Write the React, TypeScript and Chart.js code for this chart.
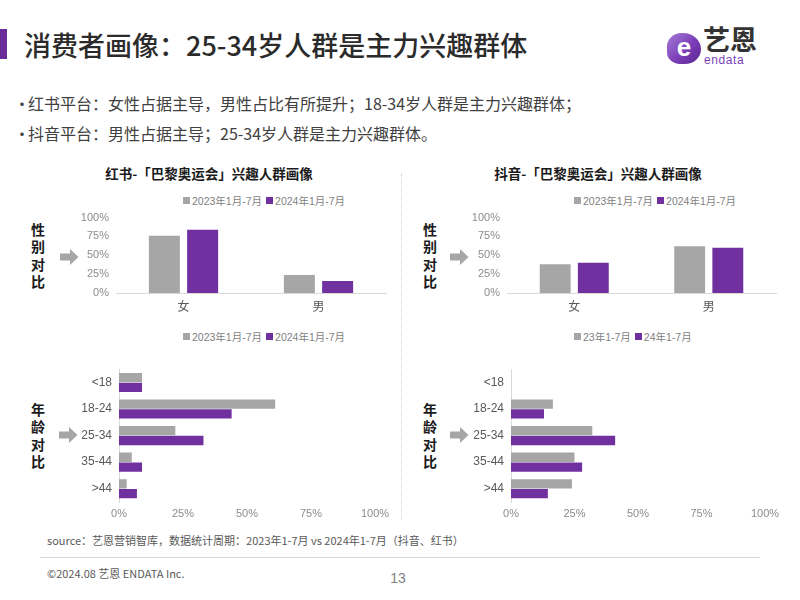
import React, { useEffect, useRef } from "react";
import { Chart, registerables } from "chart.js";

Chart.register(...registerables);

// ---------- data ----------
const genderLabels = ["女", "男"];
const xhsGender2023 = [76, 24];
const xhsGender2024 = [84, 16];
const dyGender2023 = [38, 62];
const dyGender2024 = [40, 60];

const ageLabels = ["<18", "18-24", "25-34", "35-44", ">44"];
const xhsAge2023 = [9, 61, 22, 5, 3];
const xhsAge2024 = [9, 44, 33, 9, 7];
const dyAge2023 = [0, 16.5, 32, 25, 24];
const dyAge2024 = [0, 13, 41, 28, 14.5];

const percentTicks = [0, 25, 50, 75, 100];
const legendFull = ["2023年1月-7月", "2024年1月-7月"];
const legendShort = ["23年1-7月", "24年1-7月"];

const GRAY = "#a6a6a6";
const PURPLE = "#7030a0";
const FONT = '"Liberation Sans", "Noto Sans CJK SC", sans-serif';
const CJK = '"Noto Sans CJK SC", "Liberation Sans", sans-serif';

function pctTicks(s: any) {
  s.ticks = percentTicks.map((v) => ({ value: v }));
}

function genderConfig(d23: number[], d24: number[], labels: string[]): any {
  return {
    type: "bar",
    data: {
      labels: genderLabels,
      datasets: [
        { label: labels[0], data: d23, backgroundColor: GRAY, barPercentage: 0.81, categoryPercentage: 0.567 },
        { label: labels[1], data: d24, backgroundColor: PURPLE, barPercentage: 0.81, categoryPercentage: 0.567 },
      ],
    },
    options: {
      responsive: false,
      animation: false,
      devicePixelRatio: 1,
      layout: { padding: { top: 10, right: 10, left: 0, bottom: 0 } },
      plugins: { legend: { display: false }, tooltip: { enabled: false } },
      scales: {
        x: {
          grid: { display: false, drawTicks: false },
          border: { display: true, color: "#d9d9d9", width: 1 },
          ticks: { color: "#595959", font: { size: 12, family: CJK }, padding: 6 },
          afterFit: (s: any) => {
            s.height = 22;
          },
        },
        y: {
          min: 0,
          max: 100,
          afterBuildTicks: pctTicks,
          grid: { display: false, drawTicks: false },
          border: { display: false },
          ticks: { color: "#8c8c8c", font: { size: 11, family: FONT }, padding: 7, callback: (v: any) => v + "%" },
          afterFit: (s: any) => {
            s.width = 56;
          },
        },
      },
    },
  };
}

function ageConfig(d23: number[], d24: number[], labels: string[]): any {
  return {
    type: "bar",
    data: {
      labels: ageLabels,
      datasets: [
        { label: labels[0], data: d23, backgroundColor: GRAY, barPercentage: 0.95, categoryPercentage: 0.74 },
        { label: labels[1], data: d24, backgroundColor: PURPLE, barPercentage: 0.95, categoryPercentage: 0.74 },
      ],
    },
    options: {
      indexAxis: "y",
      responsive: false,
      animation: false,
      devicePixelRatio: 1,
      layout: { padding: { top: 5, right: 20, left: 0, bottom: 0 } },
      plugins: { legend: { display: false }, tooltip: { enabled: false } },
      scales: {
        x: {
          min: 0,
          max: 100,
          afterBuildTicks: pctTicks,
          grid: { display: false, drawTicks: false },
          border: { display: false },
          ticks: { color: "#8c8c8c", font: { size: 11, family: FONT }, padding: 5, callback: (v: any) => v + "%" },
          afterFit: (s: any) => {
            s.height = 20;
          },
        },
        y: {
          grid: { display: false, drawTicks: false },
          border: { display: true, color: "#d9d9d9", width: 1 },
          ticks: { color: "#595959", font: { size: 12, family: FONT }, padding: 7 },
          afterFit: (s: any) => {
            s.width = 59;
          },
        },
      },
    },
  };
}

function ChartBox(props: { config: any; left: number; top: number; width: number; height: number }) {
  const ref = useRef<HTMLCanvasElement>(null);
  useEffect(() => {
    const c = new Chart(ref.current as HTMLCanvasElement, props.config);
    return () => c.destroy();
  }, []);
  return (
    <canvas
      ref={ref}
      width={props.width}
      height={props.height}
      style={{ position: "absolute", left: props.left, top: props.top, width: props.width, height: props.height }}
    />
  );
}

function Legend(props: { left: number; top: number; labels: string[] }) {
  const colors = [GRAY, PURPLE];
  return (
    <div
      style={{
        position: "absolute",
        left: props.left,
        top: props.top,
        height: 14,
        display: "flex",
        alignItems: "center",
        fontFamily: FONT,
        fontSize: 10.5,
        color: "#7f7f7f",
        whiteSpace: "nowrap",
      }}
    >
      {props.labels.map((l, i) => (
        <span key={i} style={{ display: "flex", alignItems: "center", marginRight: 4 }}>
          <span style={{ display: "inline-block", width: 7, height: 7, background: colors[i], marginRight: 2 }} />
          <span>{l}</span>
        </span>
      ))}
    </div>
  );
}

function SideLabel(props: { left: number; top: number; text: string }) {
  return (
    <div
      style={{
        position: "absolute",
        left: props.left,
        top: props.top,
        width: 16,
        textAlign: "center",
        fontFamily: CJK,
        fontWeight: 700,
        fontSize: 14,
        lineHeight: "17.3px",
        color: "#1a1a1a",
      }}
    >
      {props.text.split("").map((ch, i) => (
        <div key={i}>{ch}</div>
      ))}
    </div>
  );
}

function Arrow(props: { left: number; top: number }) {
  return (
    <svg style={{ position: "absolute", left: props.left, top: props.top }} width={19} height={16}>
      <polygon points="0,4.5 10,4.5 10,0 18.5,8 10,16 10,11.5 0,11.5" fill={GRAY} />
    </svg>
  );
}

export default function App() {
  return (
    <div
      style={{
        position: "fixed",
        left: 0,
        top: 0,
        width: 800,
        height: 600,
        background: "#ffffff",
        overflow: "hidden",
        fontFamily: CJK,
      }}
    >
      {/* header */}
      <div style={{ position: "absolute", left: 0, top: 29, width: 7, height: 30, background: "#6a2c9a" }} />
      <div
        style={{
          position: "absolute",
          left: 24,
          top: 28,
          fontSize: 27,
          lineHeight: "34px",
          fontWeight: 500,
          color: "#2b2b2b",
          whiteSpace: "nowrap",
        }}
      >
        消费者画像：25-34岁人群是主力兴趣群体
      </div>
      {/* logo */}
      <div
        style={{
          position: "absolute",
          left: 667,
          top: 33,
          width: 34,
          height: 31,
          borderRadius: "45% 55% 50% 40%",
          background: "linear-gradient(135deg, #a77bd6 0%, #7a3fb8 55%, #5a2490 100%)",
          color: "#ffffff",
          fontFamily: FONT,
          fontWeight: 700,
          fontSize: 26,
          lineHeight: "29px",
          textAlign: "center",
        }}
      >
        e
      </div>
      <div
        style={{
          position: "absolute",
          left: 703,
          top: 24,
          fontSize: 27,
          lineHeight: "30px",
          fontWeight: 700,
          color: "#333333",
          whiteSpace: "nowrap",
        }}
      >
        艺恩
      </div>
      <div
        style={{
          position: "absolute",
          left: 704,
          top: 53,
          fontSize: 12,
          lineHeight: "14px",
          fontFamily: FONT,
          color: "#7a3fb8",
          letterSpacing: 0.6,
        }}
      >
        endata
      </div>

      {/* bullets */}
      <div style={{ position: "absolute", left: 14, top: 93, fontSize: 16, lineHeight: "20px", color: "#404040", whiteSpace: "nowrap" }}>
        <span style={{ display: "inline-block", width: 14 }}>•</span>红书平台：女性占据主导，男性占比有所提升；18-34岁人群是主力兴趣群体；
      </div>
      <div style={{ position: "absolute", left: 14, top: 123, fontSize: 16, lineHeight: "20px", color: "#404040", whiteSpace: "nowrap" }}>
        <span style={{ display: "inline-block", width: 14 }}>•</span>抖音平台：男性占据主导；25-34岁人群是主力兴趣群体。
      </div>

      {/* section titles */}
      <div style={{ position: "absolute", left: 59, width: 300, top: 164, textAlign: "center", fontSize: 13.5, lineHeight: "18px", fontWeight: 700, color: "#1a1a1a" }}>
        红书-「巴黎奥运会」兴趣人群画像
      </div>
      <div style={{ position: "absolute", left: 448, width: 300, top: 164, textAlign: "center", fontSize: 13.5, lineHeight: "18px", fontWeight: 700, color: "#1a1a1a" }}>
        抖音-「巴黎奥运会」兴趣人群画像
      </div>

      {/* divider */}
      <div style={{ position: "absolute", left: 401, top: 174, width: 0, height: 346, borderLeft: "1px dotted #cfcfcf" }} />

      {/* legends */}
      <Legend left={183} top={193} labels={legendFull} />
      <Legend left={574} top={193} labels={legendFull} />
      <Legend left={183} top={329} labels={legendFull} />
      <Legend left={574} top={329} labels={legendShort} />

      {/* side labels */}
      <SideLabel left={30} top={221} text="性别对比" />
      <SideLabel left={422} top={221} text="性别对比" />
      <SideLabel left={30} top={401} text="年龄对比" />
      <SideLabel left={422} top={401} text="年龄对比" />
      <Arrow left={60} top={249} />
      <Arrow left={450} top={249} />
      <Arrow left={59} top={427} />
      <Arrow left={450} top={427} />

      {/* charts */}
      <ChartBox config={genderConfig(xhsGender2023, xhsGender2024, legendFull)} left={60} top={204} width={336} height={111} />
      <ChartBox config={genderConfig(dyGender2023, dyGender2024, legendFull)} left={451} top={204} width={335} height={111} />
      <ChartBox config={ageConfig(xhsAge2023, xhsAge2024, legendFull)} left={60} top={355} width={335} height={167} />
      <ChartBox config={ageConfig(dyAge2023, dyAge2024, legendShort)} left={452} top={355} width={333} height={167} />

      {/* footer */}
      <div style={{ position: "absolute", left: 47, top: 532, fontSize: 11, lineHeight: "16px", color: "#595959", whiteSpace: "nowrap" }}>
        source：艺恩营销智库，数据统计周期：2023年1-7月 vs 2024年1-7月（抖音、红书）
      </div>
      <div style={{ position: "absolute", left: 40, top: 557, width: 720, height: 1, background: "#d9d9d9" }} />
      <div style={{ position: "absolute", left: 47, top: 565, fontSize: 11, lineHeight: "16px", color: "#595959", whiteSpace: "nowrap" }}>
        ©2024.08 艺恩 ENDATA Inc.
      </div>
      <div style={{ position: "absolute", left: 378, width: 40, top: 569, textAlign: "center", fontSize: 14, lineHeight: "18px", fontFamily: FONT, color: "#7f7f7f" }}>
        13
      </div>
    </div>
  );
}
